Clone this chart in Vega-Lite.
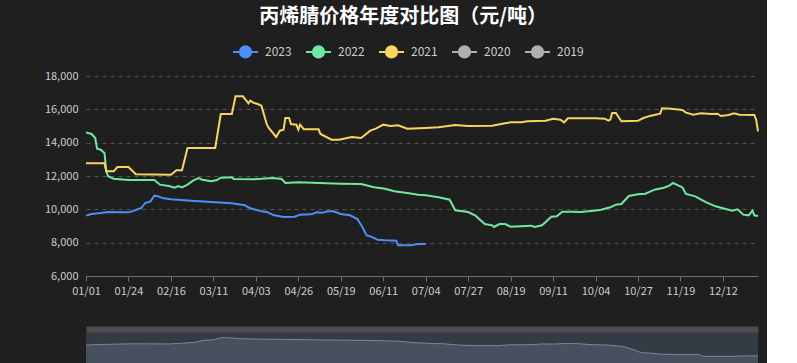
{
  "$schema": "https://vega.github.io/schema/vega-lite/v6.json",
  "background": "#1f1f1f",
  "padding": {"left": 44, "top": 7, "right": 5, "bottom": 2},
  "title": {"text": "丙烯腈价格年度对比图（元/吨）", "color": "#ffffff", "fontSize": 20, "font": "Noto Sans CJK SC", "fontWeight": "bold", "anchor": "middle", "offset": 11},
  "config": {
    "view": {"stroke": null},
    "axis": {"labelFont": "Noto Sans CJK SC", "labelColor": "#cccccc", "labelFontSize": 11},
    "legend": {"labelFont": "Noto Sans CJK SC", "labelColor": "#cccccc", "labelFontSize": 12}
  },
  "datasets": {
    "prices": [
      {"date": "2021/01/01", "year": "2023", "price": 9620},
      {"date": "2021/01/04", "year": "2023", "price": 9720},
      {"date": "2021/01/09", "year": "2023", "price": 9780},
      {"date": "2021/01/13", "year": "2023", "price": 9840},
      {"date": "2021/01/24", "year": "2023", "price": 9820},
      {"date": "2021/01/27", "year": "2023", "price": 9920},
      {"date": "2021/01/31", "year": "2023", "price": 10080},
      {"date": "2021/02/02", "year": "2023", "price": 10380},
      {"date": "2021/02/05", "year": "2023", "price": 10480},
      {"date": "2021/02/07", "year": "2023", "price": 10820},
      {"date": "2021/02/09", "year": "2023", "price": 10780},
      {"date": "2021/02/12", "year": "2023", "price": 10660},
      {"date": "2021/02/16", "year": "2023", "price": 10600},
      {"date": "2021/02/27", "year": "2023", "price": 10520},
      {"date": "2021/03/12", "year": "2023", "price": 10420},
      {"date": "2021/03/21", "year": "2023", "price": 10360},
      {"date": "2021/03/28", "year": "2023", "price": 10240},
      {"date": "2021/03/31", "year": "2023", "price": 10060},
      {"date": "2021/04/06", "year": "2023", "price": 9880},
      {"date": "2021/04/09", "year": "2023", "price": 9840},
      {"date": "2021/04/13", "year": "2023", "price": 9640},
      {"date": "2021/04/18", "year": "2023", "price": 9540},
      {"date": "2021/04/24", "year": "2023", "price": 9560},
      {"date": "2021/04/27", "year": "2023", "price": 9680},
      {"date": "2021/05/03", "year": "2023", "price": 9700},
      {"date": "2021/05/06", "year": "2023", "price": 9820},
      {"date": "2021/05/09", "year": "2023", "price": 9800},
      {"date": "2021/05/12", "year": "2023", "price": 9880},
      {"date": "2021/05/15", "year": "2023", "price": 9880},
      {"date": "2021/05/19", "year": "2023", "price": 9720},
      {"date": "2021/05/24", "year": "2023", "price": 9640},
      {"date": "2021/05/28", "year": "2023", "price": 9420},
      {"date": "2021/05/31", "year": "2023", "price": 8880},
      {"date": "2021/06/02", "year": "2023", "price": 8440},
      {"date": "2021/06/04", "year": "2023", "price": 8380},
      {"date": "2021/06/08", "year": "2023", "price": 8180},
      {"date": "2021/06/12", "year": "2023", "price": 8140},
      {"date": "2021/06/18", "year": "2023", "price": 8120},
      {"date": "2021/06/19", "year": "2023", "price": 7840},
      {"date": "2021/06/26", "year": "2023", "price": 7840},
      {"date": "2021/06/30", "year": "2023", "price": 7920},
      {"date": "2021/07/04", "year": "2023", "price": 7920},

      {"date": "2021/01/01", "year": "2022", "price": 14620},
      {"date": "2021/01/04", "year": "2022", "price": 14520},
      {"date": "2021/01/06", "year": "2022", "price": 14280},
      {"date": "2021/01/07", "year": "2022", "price": 13640},
      {"date": "2021/01/09", "year": "2022", "price": 13580},
      {"date": "2021/01/11", "year": "2022", "price": 13380},
      {"date": "2021/01/12", "year": "2022", "price": 12280},
      {"date": "2021/01/13", "year": "2022", "price": 11980},
      {"date": "2021/01/16", "year": "2022", "price": 11840},
      {"date": "2021/01/24", "year": "2022", "price": 11760},
      {"date": "2021/02/07", "year": "2022", "price": 11760},
      {"date": "2021/02/10", "year": "2022", "price": 11480},
      {"date": "2021/02/15", "year": "2022", "price": 11400},
      {"date": "2021/02/18", "year": "2022", "price": 11300},
      {"date": "2021/02/20", "year": "2022", "price": 11400},
      {"date": "2021/02/22", "year": "2022", "price": 11320},
      {"date": "2021/02/25", "year": "2022", "price": 11480},
      {"date": "2021/02/28", "year": "2022", "price": 11720},
      {"date": "2021/03/03", "year": "2022", "price": 11880},
      {"date": "2021/03/05", "year": "2022", "price": 11780},
      {"date": "2021/03/10", "year": "2022", "price": 11680},
      {"date": "2021/03/13", "year": "2022", "price": 11760},
      {"date": "2021/03/15", "year": "2022", "price": 11900},
      {"date": "2021/03/21", "year": "2022", "price": 11920},
      {"date": "2021/03/22", "year": "2022", "price": 11820},
      {"date": "2021/04/02", "year": "2022", "price": 11800},
      {"date": "2021/04/12", "year": "2022", "price": 11880},
      {"date": "2021/04/17", "year": "2022", "price": 11820},
      {"date": "2021/04/19", "year": "2022", "price": 11580},
      {"date": "2021/04/26", "year": "2022", "price": 11620},
      {"date": "2021/05/19", "year": "2022", "price": 11540},
      {"date": "2021/05/30", "year": "2022", "price": 11520},
      {"date": "2021/06/06", "year": "2022", "price": 11320},
      {"date": "2021/06/12", "year": "2022", "price": 11240},
      {"date": "2021/06/17", "year": "2022", "price": 11080},
      {"date": "2021/06/24", "year": "2022", "price": 10980},
      {"date": "2021/06/30", "year": "2022", "price": 10880},
      {"date": "2021/07/04", "year": "2022", "price": 10840},
      {"date": "2021/07/11", "year": "2022", "price": 10720},
      {"date": "2021/07/17", "year": "2022", "price": 10580},
      {"date": "2021/07/20", "year": "2022", "price": 9940},
      {"date": "2021/07/27", "year": "2022", "price": 9840},
      {"date": "2021/07/31", "year": "2022", "price": 9620},
      {"date": "2021/08/05", "year": "2022", "price": 9120},
      {"date": "2021/08/09", "year": "2022", "price": 9040},
      {"date": "2021/08/10", "year": "2022", "price": 8940},
      {"date": "2021/08/13", "year": "2022", "price": 9120},
      {"date": "2021/08/16", "year": "2022", "price": 9120},
      {"date": "2021/08/19", "year": "2022", "price": 8960},
      {"date": "2021/08/30", "year": "2022", "price": 9020},
      {"date": "2021/09/01", "year": "2022", "price": 8940},
      {"date": "2021/09/05", "year": "2022", "price": 9040},
      {"date": "2021/09/07", "year": "2022", "price": 9240},
      {"date": "2021/09/10", "year": "2022", "price": 9560},
      {"date": "2021/09/13", "year": "2022", "price": 9580},
      {"date": "2021/09/16", "year": "2022", "price": 9860},
      {"date": "2021/09/21", "year": "2022", "price": 9860},
      {"date": "2021/09/26", "year": "2022", "price": 9840},
      {"date": "2021/10/03", "year": "2022", "price": 9920},
      {"date": "2021/10/07", "year": "2022", "price": 9980},
      {"date": "2021/10/12", "year": "2022", "price": 10120},
      {"date": "2021/10/15", "year": "2022", "price": 10280},
      {"date": "2021/10/18", "year": "2022", "price": 10320},
      {"date": "2021/10/22", "year": "2022", "price": 10800},
      {"date": "2021/10/27", "year": "2022", "price": 10900},
      {"date": "2021/10/31", "year": "2022", "price": 10940},
      {"date": "2021/11/05", "year": "2022", "price": 11180},
      {"date": "2021/11/10", "year": "2022", "price": 11300},
      {"date": "2021/11/13", "year": "2022", "price": 11420},
      {"date": "2021/11/15", "year": "2022", "price": 11580},
      {"date": "2021/11/18", "year": "2022", "price": 11420},
      {"date": "2021/11/20", "year": "2022", "price": 11320},
      {"date": "2021/11/22", "year": "2022", "price": 10920},
      {"date": "2021/11/27", "year": "2022", "price": 10780},
      {"date": "2021/12/03", "year": "2022", "price": 10420},
      {"date": "2021/12/08", "year": "2022", "price": 10180},
      {"date": "2021/12/13", "year": "2022", "price": 10040},
      {"date": "2021/12/17", "year": "2022", "price": 9920},
      {"date": "2021/12/20", "year": "2022", "price": 10000},
      {"date": "2021/12/23", "year": "2022", "price": 9680},
      {"date": "2021/12/26", "year": "2022", "price": 9640},
      {"date": "2021/12/28", "year": "2022", "price": 9920},
      {"date": "2021/12/29", "year": "2022", "price": 9640},
      {"date": "2021/12/31", "year": "2022", "price": 9600},

      {"date": "2021/01/01", "year": "2021", "price": 12760},
      {"date": "2021/01/11", "year": "2021", "price": 12760},
      {"date": "2021/01/12", "year": "2021", "price": 12280},
      {"date": "2021/01/16", "year": "2021", "price": 12280},
      {"date": "2021/01/18", "year": "2021", "price": 12540},
      {"date": "2021/01/24", "year": "2021", "price": 12540},
      {"date": "2021/01/28", "year": "2021", "price": 12100},
      {"date": "2021/02/16", "year": "2021", "price": 12080},
      {"date": "2021/02/19", "year": "2021", "price": 12340},
      {"date": "2021/02/22", "year": "2021", "price": 12340},
      {"date": "2021/02/25", "year": "2021", "price": 13680},
      {"date": "2021/03/12", "year": "2021", "price": 13680},
      {"date": "2021/03/15", "year": "2021", "price": 15720},
      {"date": "2021/03/21", "year": "2021", "price": 15720},
      {"date": "2021/03/23", "year": "2021", "price": 16780},
      {"date": "2021/03/27", "year": "2021", "price": 16780},
      {"date": "2021/03/30", "year": "2021", "price": 16360},
      {"date": "2021/03/31", "year": "2021", "price": 16520},
      {"date": "2021/04/02", "year": "2021", "price": 16380},
      {"date": "2021/04/04", "year": "2021", "price": 16320},
      {"date": "2021/04/06", "year": "2021", "price": 16220},
      {"date": "2021/04/09", "year": "2021", "price": 15080},
      {"date": "2021/04/10", "year": "2021", "price": 14880},
      {"date": "2021/04/14", "year": "2021", "price": 14340},
      {"date": "2021/04/16", "year": "2021", "price": 14720},
      {"date": "2021/04/18", "year": "2021", "price": 14780},
      {"date": "2021/04/19", "year": "2021", "price": 15480},
      {"date": "2021/04/21", "year": "2021", "price": 15480},
      {"date": "2021/04/22", "year": "2021", "price": 15120},
      {"date": "2021/04/25", "year": "2021", "price": 15080},
      {"date": "2021/04/26", "year": "2021", "price": 14780},
      {"date": "2021/04/27", "year": "2021", "price": 15080},
      {"date": "2021/04/29", "year": "2021", "price": 14800},
      {"date": "2021/05/07", "year": "2021", "price": 14800},
      {"date": "2021/05/08", "year": "2021", "price": 14520},
      {"date": "2021/05/14", "year": "2021", "price": 14180},
      {"date": "2021/05/18", "year": "2021", "price": 14180},
      {"date": "2021/05/25", "year": "2021", "price": 14340},
      {"date": "2021/05/30", "year": "2021", "price": 14280},
      {"date": "2021/06/04", "year": "2021", "price": 14720},
      {"date": "2021/06/07", "year": "2021", "price": 14840},
      {"date": "2021/06/11", "year": "2021", "price": 15080},
      {"date": "2021/06/15", "year": "2021", "price": 15000},
      {"date": "2021/06/19", "year": "2021", "price": 15040},
      {"date": "2021/06/24", "year": "2021", "price": 14840},
      {"date": "2021/07/04", "year": "2021", "price": 14880},
      {"date": "2021/07/11", "year": "2021", "price": 14920},
      {"date": "2021/07/20", "year": "2021", "price": 15060},
      {"date": "2021/07/27", "year": "2021", "price": 15000},
      {"date": "2021/08/09", "year": "2021", "price": 15020},
      {"date": "2021/08/16", "year": "2021", "price": 15160},
      {"date": "2021/08/19", "year": "2021", "price": 15220},
      {"date": "2021/08/25", "year": "2021", "price": 15220},
      {"date": "2021/08/28", "year": "2021", "price": 15280},
      {"date": "2021/09/07", "year": "2021", "price": 15320},
      {"date": "2021/09/11", "year": "2021", "price": 15440},
      {"date": "2021/09/15", "year": "2021", "price": 15380},
      {"date": "2021/09/17", "year": "2021", "price": 15220},
      {"date": "2021/09/19", "year": "2021", "price": 15460},
      {"date": "2021/10/04", "year": "2021", "price": 15460},
      {"date": "2021/10/09", "year": "2021", "price": 15440},
      {"date": "2021/10/11", "year": "2021", "price": 15320},
      {"date": "2021/10/12", "year": "2021", "price": 15380},
      {"date": "2021/10/13", "year": "2021", "price": 15780},
      {"date": "2021/10/15", "year": "2021", "price": 15780},
      {"date": "2021/10/18", "year": "2021", "price": 15280},
      {"date": "2021/10/27", "year": "2021", "price": 15320},
      {"date": "2021/10/30", "year": "2021", "price": 15480},
      {"date": "2021/11/03", "year": "2021", "price": 15620},
      {"date": "2021/11/08", "year": "2021", "price": 15740},
      {"date": "2021/11/09", "year": "2021", "price": 16060},
      {"date": "2021/11/14", "year": "2021", "price": 16040},
      {"date": "2021/11/20", "year": "2021", "price": 15960},
      {"date": "2021/11/22", "year": "2021", "price": 15800},
      {"date": "2021/11/26", "year": "2021", "price": 15680},
      {"date": "2021/11/30", "year": "2021", "price": 15760},
      {"date": "2021/12/06", "year": "2021", "price": 15720},
      {"date": "2021/12/09", "year": "2021", "price": 15740},
      {"date": "2021/12/11", "year": "2021", "price": 15600},
      {"date": "2021/12/15", "year": "2021", "price": 15660},
      {"date": "2021/12/18", "year": "2021", "price": 15760},
      {"date": "2021/12/21", "year": "2021", "price": 15680},
      {"date": "2021/12/29", "year": "2021", "price": 15660},
      {"date": "2021/12/30", "year": "2021", "price": 15380},
      {"date": "2021/12/31", "year": "2021", "price": 14680}
    ]
  },
  "spacing": 33,
  "vconcat": [
    {
      "width": 672,
      "height": 200,
      "data": {"name": "prices"},
      "mark": {"type": "line", "strokeWidth": 2},
      "encoding": {
        "x": {
          "field": "date", "type": "temporal",
          "scale": {"domain": [{"year": 2021, "month": 1, "date": 1}, {"year": 2021, "month": 12, "date": 31}], "nice": false},
          "axis": {
            "title": null, "format": "%m/%d", "grid": false, "labelFlush": false, "labelOverlap": false,
            "values": [
              {"year": 2021, "month": 1, "date": 1}, {"year": 2021, "month": 1, "date": 24},
              {"year": 2021, "month": 2, "date": 16}, {"year": 2021, "month": 3, "date": 11},
              {"year": 2021, "month": 4, "date": 3}, {"year": 2021, "month": 4, "date": 26},
              {"year": 2021, "month": 5, "date": 19}, {"year": 2021, "month": 6, "date": 11},
              {"year": 2021, "month": 7, "date": 4}, {"year": 2021, "month": 7, "date": 27},
              {"year": 2021, "month": 8, "date": 19}, {"year": 2021, "month": 9, "date": 11},
              {"year": 2021, "month": 10, "date": 4}, {"year": 2021, "month": 10, "date": 27},
              {"year": 2021, "month": 11, "date": 19}, {"year": 2021, "month": 12, "date": 12}
            ],
            "domainColor": "#6e7079", "tickColor": "#6e7079", "tickSize": 5, "labelPadding": 4
          }
        },
        "y": {
          "field": "price", "type": "quantitative",
          "scale": {"domain": [6000, 18000], "nice": false},
          "axis": {
            "title": null, "format": ",.0f", "values": [6000, 8000, 10000, 12000, 14000, 16000, 18000],
            "domain": false, "ticks": false, "labelPadding": 8,
            "grid": true, "gridColor": "#555555", "gridDash": [4, 4], "gridWidth": 1
          }
        },
        "color": {
          "field": "year", "type": "nominal",
          "scale": {"domain": ["2023", "2022", "2021", "2020", "2019"], "range": ["#4e8ef7", "#6fe8a2", "#f7d560", "#b0b0b0", "#b0b0b0"]},
          "legend": {
            "title": null, "orient": "none", "direction": "horizontal", "legendX": 146, "legendY": -38,
            "symbolType": "M-1,0L1,0M-0.45,0A0.45,0.45 0 1 1 0.45,0A0.45,0.45 0 1 1 -0.45,0Z",
            "symbolSize": 625, "symbolStrokeWidth": 2, "labelOffset": 6, "columnPadding": 10,
            "encode": {"symbols": {"update": {"fill": {"scale": "color", "field": "value"}, "stroke": {"scale": "color", "field": "value"}, "opacity": {"value": 1}}}}
          }
        }
      }
    },
    {
      "width": 672,
      "height": 30,
      "view": {"fill": "#343b45", "stroke": null},
      "layer": [
        {
          "data": {"name": "prices"},
          "transform": [{"filter": "datum.year == '2023'"}],
          "mark": {"type": "area", "color": "#46505e", "opacity": 1, "line": {"color": "#7b8797", "strokeWidth": 1}},
          "encoding": {
            "x": {
              "field": "date", "type": "temporal",
              "scale": {"domain": [{"year": 2021, "month": 1, "date": 1}, {"year": 2021, "month": 7, "date": 4}], "nice": false},
              "axis": {"orient": "top", "title": null, "labels": false, "ticks": false, "grid": false, "domainColor": "#4d4d4d", "domainWidth": 6, "offset": 3, "domainCap": "butt"}
            },
            "y": {"field": "price", "type": "quantitative", "scale": {"domain": [6950, 11715], "nice": false, "zero": false}, "axis": null}
          }
        },
        {
          "mark": {"type": "point", "filled": true, "fill": "#2e2d55", "stroke": "#b8bccc", "strokeWidth": 1, "opacity": 1, "size": 400, "shape": "M-0.33,-0.9L0.33,-0.9L0.33,0.9L-0.33,0.9Z"},
          "encoding": {
            "x": {"datum": {"year": 2021, "month": 1, "date": 1}, "type": "temporal"},
            "y": {"datum": 9332, "type": "quantitative"}
          }
        },
        {
          "mark": {"type": "point", "filled": true, "fill": "#2e2d55", "stroke": "#b8bccc", "strokeWidth": 1, "opacity": 1, "size": 400, "shape": "M-0.33,-0.9L0.33,-0.9L0.33,0.9L-0.33,0.9Z"},
          "encoding": {
            "x": {"datum": {"year": 2021, "month": 7, "date": 4}, "type": "temporal"},
            "y": {"datum": 9332, "type": "quantitative"}
          }
        }
      ]
    }
  ]
}
